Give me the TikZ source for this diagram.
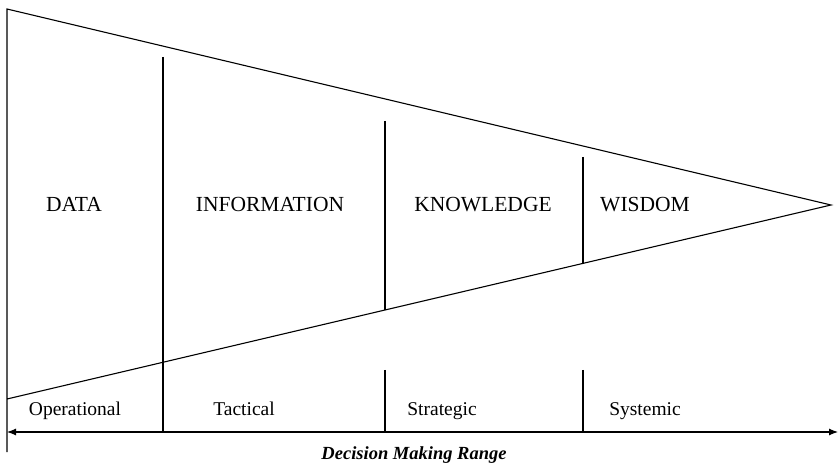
\documentclass[tikz,border=0pt]{standalone}
\usepackage{fontspec}
\setmainfont{Liberation Serif}
\usetikzlibrary{arrows.meta}

\begin{document}
\begin{tikzpicture}[x=1pt,y=-1pt,line width=1.1pt]

        \useasboundingbox (0,0) rectangle (839,465);

        \begin{scope}
          \coordinate (tl)   at (7,9);
          \coordinate (bl)   at (7,399);
          \coordinate (apex) at (831,205);
          \coordinate (foot) at (7,452);
          \coordinate (rl)   at (7,432);
          \coordinate (rr)   at (838,432);

          \coordinate (a1) at (163,57);   \coordinate (a2) at (163,432);
          \coordinate (b1) at (385,121);  \coordinate (b2) at (385,310);
          \coordinate (b3) at (385,370);  \coordinate (b4) at (385,432);
          \coordinate (c1) at (583,157);  \coordinate (c2) at (583,263);
          \coordinate (c3) at (583,370);  \coordinate (c4) at (583,432);
        \end{scope}

        \draw (foot) -- (tl) -- (apex) -- (bl);
        \draw (a1) -- (a2);
        \draw (b1) -- (b2)  (b3) -- (b4);
        \draw (c1) -- (c2)  (c3) -- (c4);

        \draw[{Latex[length=9pt,width=7pt]}-{Latex[length=9pt,width=7pt]}] (rl) -- (rr);

        \begin{scope}[every node/.style={anchor=base, font=\fontsize{21.5}{24}\selectfont}]
          \node (data)  at (74,212)  {DATA};
          \node (info)  at (270,212) {INFORMATION};
          \node (know)  at (483,212) {KNOWLEDGE};
          \node (wisd)  at (645,212) {WISDOM};
        \end{scope}

        \begin{scope}[every node/.style={anchor=base, font=\fontsize{19.5}{22}\selectfont}]
          \node (oper)  at (75,416)  {Operational};
          \node (tact)  at (244,416) {Tactical};
          \node (strat) at (442,416) {Strategic};
          \node (syst)  at (645,416) {Systemic};
        \end{scope}

        \node[anchor=base, font=\fontsize{18.5}{22}\selectfont\bfseries\itshape] (range) at (414,459) {Decision Making Range};

      \end{tikzpicture}
\end{document}
